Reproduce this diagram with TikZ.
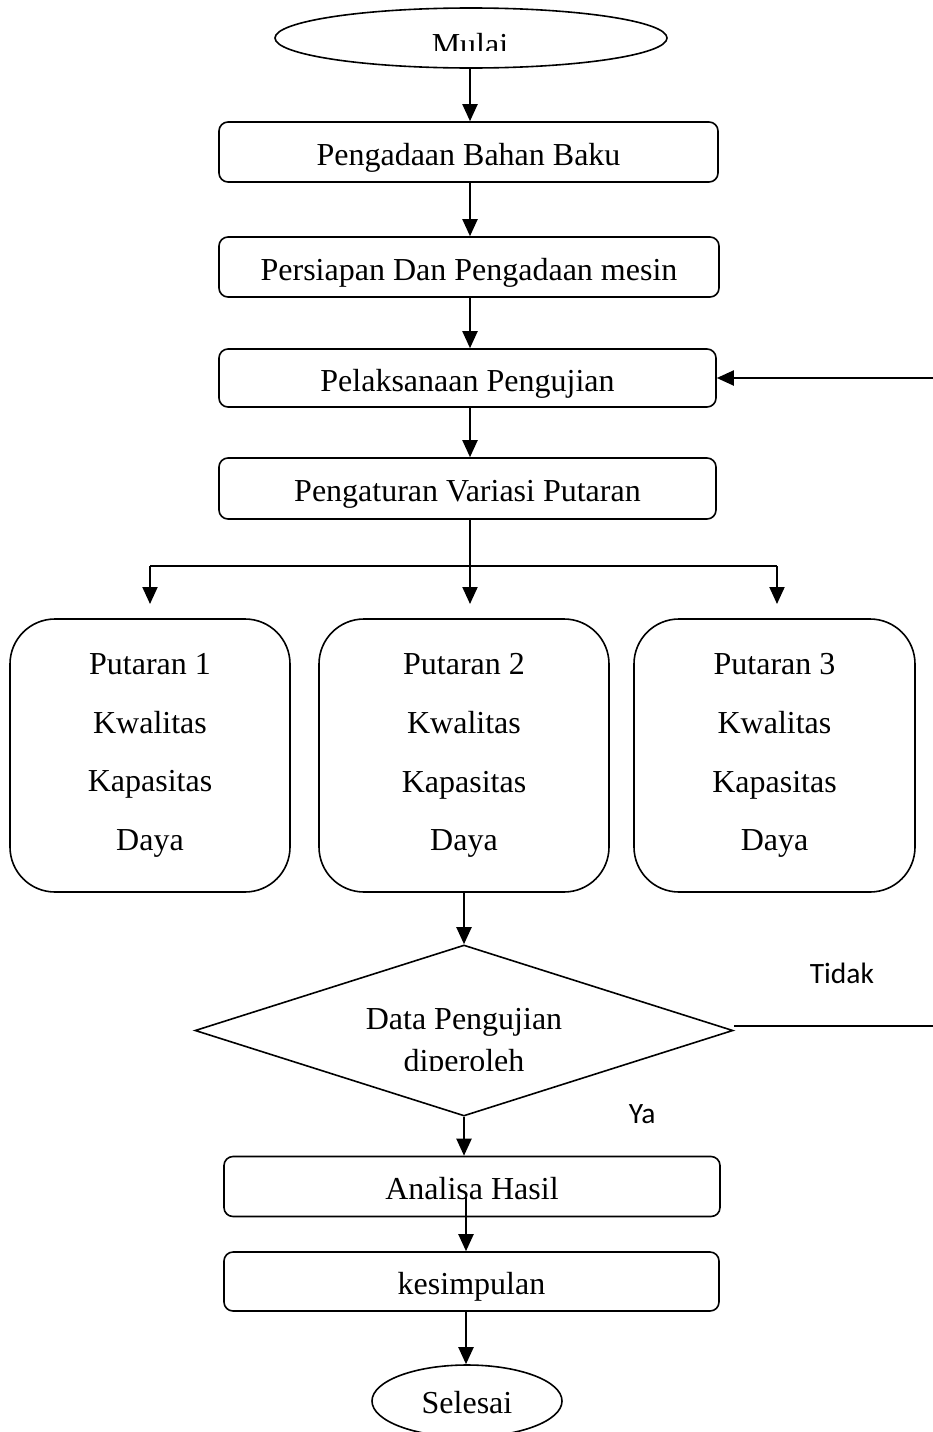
\documentclass[tikz,border=0pt]{standalone}
\usepackage{fontspec}
\setmainfont{Liberation Serif}
\newfontfamily\calib{Carlito}
\usetikzlibrary{shapes.geometric,arrows.meta}
\begin{document}
\begin{tikzpicture}[x=1pt,y=-1pt,line width=1.6pt,
  txt/.style={font=\fontsize{32}{38}\selectfont},
  box/.style={draw,rounded corners=9pt,inner sep=0pt,minimum height=60pt,
    text height=26pt,text depth=0pt,font=\fontsize{32}{38}\selectfont},
  bigbox/.style={draw,rounded corners=45pt,inner sep=0pt,minimum height=273pt,
    align=center,font=\fontsize{32}{58.7}\selectfont},
  oval/.style={draw,ellipse,inner sep=0pt},
  arr/.style={-{Triangle[length=17pt,width=15pt]},line width=2pt},
  lab/.style={font=\calib\fontsize{29.5}{34}\selectfont,anchor=base west,inner sep=0pt}]
\useasboundingbox (0,0) rectangle (933,1432);
% start
\node[oval,minimum width=392pt,minimum height=60pt] (mulai) at (471,38) {};
\begin{scope}
  \clip (260,0) rectangle (680,50);
  \node[txt,anchor=base,inner sep=0pt] (mulaitxt) at (470,55.5) {Mulai};
\end{scope}
\node[box,minimum width=499pt] (b1) at (468.5,152) {Pengadaan Bahan Baku};
\node[box,minimum width=500pt] (b2) at (469,267) {Persiapan Dan Pengadaan mesin};
\node[box,minimum width=497pt,minimum height=58pt] (b3) at (467.5,378) {Pelaksanaan Pengujian};
\node[box,minimum width=497pt,minimum height=61pt] (b4) at (467.5,488.5) {Pengaturan Variasi Putaran};
% three boxes
\node[bigbox,minimum width=280pt] (pA) at (150,755.5) {Putaran 1\\Kwalitas\\Kapasitas\\Daya};
\node[bigbox,minimum width=290pt] (pB) at (464,755.5) {Putaran 2\\Kwalitas\\Kapasitas\\Daya};
\node[bigbox,minimum width=281pt] (pC) at (774.5,755.5) {Putaran 3\\Kwalitas\\Kapasitas\\Daya};
% decision
\node[draw,diamond,inner sep=0pt,minimum width=538pt,minimum height=171pt,aspect=3.146] (dia) at (464,1030.5) {};
\node[txt,anchor=base,inner sep=0pt] (diatxt1) at (464,1029) {Data Pengujian};
\begin{scope}
  \clip (300,1040) rectangle (620,1070);
  \node[txt,anchor=base,inner sep=0pt] (diatxt2) at (464,1071) {diperoleh};
\end{scope}
\node[lab] (tidak) at (809,983) {Tidak};
\node[lab] (ya) at (628,1123) {Ya};
% end
\node[box,minimum width=496pt] (ana) at (472,1186.5) {Analisa Hasil};
\node[box,minimum width=495pt,minimum height=59pt] (kes) at (471.5,1281.5) {kesimpulan};
\node[oval,minimum width=190pt,minimum height=72pt] (sel) at (467,1401) {};
\node[txt,anchor=base,inner sep=0pt] (seltxt) at (467,1413) {Selesai};
% coordinates
\coordinate (split) at (470,566);
\coordinate (tA) at (150,604);
\coordinate (tB) at (470,604);
\coordinate (tC) at (777,604);
\coordinate (loop) at (937,1026);
\coordinate (anastart) at (466,1197);
% connectors
\draw[arr] (mulai.south -| 470,0) -- (b1.north -| 470,0);
\draw[arr] (b1.south -| 470,0) -- (b2.north -| 470,0);
\draw[arr] (b2.south -| 470,0) -- (b3.north -| 470,0);
\draw[arr] (b3.south -| 470,0) -- (b4.north -| 470,0);
\draw[arr] (b4.south -| tB) -- (tB);
\draw (tA |- split) -- (tC |- split);
\draw[arr] (tA |- split) -- (tA);
\draw[arr] (tC |- split) -- (tC);
\draw[arr] (pB.south) -- (dia.north);
\draw[line width=1.2pt] (dia.east |- loop) -- (loop);
\draw[arr] (loop) |- (b3.east);
\draw[arr] (dia.south) -- (ana.north -| dia.south);
\draw[arr] (anastart) -- (kes.north -| anastart);
\draw[arr] (kes.south -| anastart) -- (sel.north -| anastart);
\end{tikzpicture}
\end{document}
